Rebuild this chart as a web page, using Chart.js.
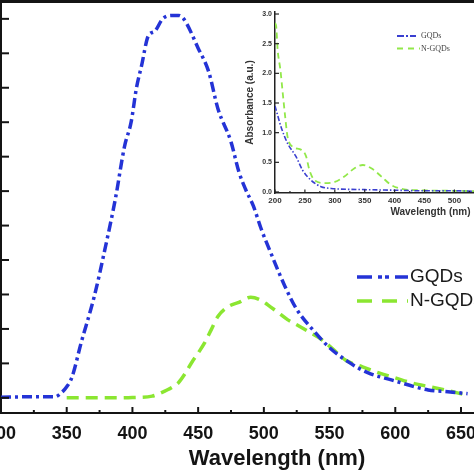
<!DOCTYPE html>
<html>
<head>
<meta charset="utf-8">
<script src="https://cdn.jsdelivr.net/npm/chart.js@4/dist/chart.umd.min.js"></script>
<style>
  html, body { margin: 0; padding: 0; background: #fff; }
  #wrap { position: relative; width: 474px; height: 474px; overflow: hidden; background: #fff; }
  #main { position: absolute; left: -30px; top: 0; }
  #inset { position: absolute; left: 230px; top: 0; }
</style>
</head>
<body>
<div id="wrap">
  <canvas id="main" width="583" height="474"></canvas>
  <canvas id="inset" width="356" height="225"></canvas>
</div>
<script>
// ---------- Main PL spectra ----------
const seriesNames = ['GQDs', 'N-GQDs'];
const gqdWave = [300, 320, 341, 346, 350, 354, 361, 371, 379, 387, 394, 399, 403, 407, 412, 417, 423, 430, 435, 439, 450, 458, 465, 475, 481, 486, 492, 498, 506, 516, 525, 539, 549, 564, 579, 597, 625, 640, 655];
const gqdPL   = [0.02, 0.03, 0.03, 0.15, 0.32, 0.6, 1.6, 2.95, 4.3, 5.77, 7.3, 8.0, 8.98, 9.65, 10.5, 10.64, 11.0, 11.1, 11.1, 11.0, 10.15, 9.47, 8.4, 7.43, 6.56, 6.06, 5.57, 4.9, 4.14, 3.24, 2.57, 1.9, 1.49, 1.05, 0.73, 0.52, 0.23, 0.18, 0.12];
const ngqdWave = [350, 380, 400, 415, 422, 430, 435, 440, 445, 450, 455, 460, 465, 473, 481, 490, 497, 503, 510, 518, 526, 534, 544, 553, 562, 575, 587, 600, 612, 625, 638, 653];
const ngqdPL   = [0, 0, 0.01, 0.05, 0.15, 0.3, 0.44, 0.7, 1.02, 1.3, 1.6, 1.98, 2.36, 2.65, 2.77, 2.92, 2.85, 2.7, 2.5, 2.27, 2.1, 1.92, 1.69, 1.4, 1.1, 0.9, 0.73, 0.58, 0.44, 0.33, 0.23, 0.09];
const mainXTicks = [300, 350, 400, 450, 500, 550, 600, 650, 700];

// ---------- Inset absorbance ----------
const gqdAbsWave = [200, 202, 210, 221, 235, 246, 260, 277, 294, 350, 400, 450, 500, 550, 600, 700];
const gqdAbs     = [1.45, 1.38, 1.10, 0.82, 0.60, 0.37, 0.20, 0.09, 0.06, 0.04, 0.03, 0.02, 0.02, 0.01, 0.01, 0.01];
const ngqdAbsWave = [200, 202, 204.5, 209, 213, 217, 221, 230, 244, 252, 257.5, 266, 283, 300, 316, 333, 347, 361, 378, 394, 416, 439, 500, 600, 700];
const ngqdAbs     = [2.85, 2.79, 2.39, 2.06, 1.66, 1.27, 0.93, 0.76, 0.71, 0.60, 0.37, 0.20, 0.15, 0.17, 0.26, 0.40, 0.455, 0.40, 0.26, 0.12, 0.045, 0.03, 0.02, 0.01, 0.01];
const insetXTicks = [200, 250, 300, 350, 400, 450, 500, 550, 600, 650, 700];

const BLUE = '#2433d6';
const GREEN = '#8be631';
const INK = '#141414';

function pts(xs, ys) { return xs.map((x, i) => ({ x: x, y: ys[i] })); }

// inward tick marks drawn from the scales
const inTicks = {
  id: 'inTicks',
  afterDraw(chart, args, o) {
    const ctx = chart.ctx, a = chart.chartArea;
    const xs = chart.scales.x, ys = chart.scales.y;
    ctx.save();
    ctx.strokeStyle = o.color; ctx.lineWidth = o.width;
    xs.ticks.forEach(t => {
      const px = xs.getPixelForValue(t.value);
      const len = (t.value % o.xMajor === 0) ? o.xLen : o.xMinorLen;
      ctx.beginPath(); ctx.moveTo(px, a.bottom); ctx.lineTo(px, a.bottom - len); ctx.stroke();
    });
    ys.ticks.forEach(t => {
      const py = ys.getPixelForValue(t.value);
      ctx.beginPath(); ctx.moveTo(a.left, py); ctx.lineTo(a.left + o.yLen, py); ctx.stroke();
    });
    if (o.topFrame) {
      ctx.fillStyle = o.color;
      ctx.fillRect(a.left - 1, 0, a.right - a.left + 1, a.top);
    }
    ctx.restore();
  }
};

// line-sample legend
const lineLegend = {
  id: 'lineLegend',
  afterDraw(chart, args, o) {
    const ctx = chart.ctx;
    chart.data.datasets.forEach((ds, i) => {
      const y = o.y + i * o.gap;
      ctx.save();
      ctx.strokeStyle = ds.borderColor;
      ctx.lineWidth = o.lineWidth;
      ctx.setLineDash(o.dashes[i]);
      ctx.beginPath(); ctx.moveTo(o.x, y); ctx.lineTo(o.x + o.len, y); ctx.stroke();
      ctx.setLineDash([]);
      ctx.fillStyle = o.color;
      ctx.font = o.font;
      ctx.textBaseline = 'middle';
      ctx.fillText(ds.label, o.x + o.len + o.textGap, y);
      ctx.restore();
    });
  }
};

new Chart(document.getElementById('main'), {
  type: 'line',
  data: {
    datasets: [
      { label: seriesNames[0], data: pts(gqdWave, gqdPL), borderColor: BLUE, borderWidth: 3.5,
        borderDash: [10, 4, 3, 4], pointRadius: 0, cubicInterpolationMode: 'monotone', fill: false },
      { label: seriesNames[1], data: pts(ngqdWave, ngqdPL), borderColor: GREEN, borderWidth: 3.5,
        borderDash: [12, 7], pointRadius: 0, cubicInterpolationMode: 'monotone', fill: false }
    ]
  },
  options: {
    responsive: false, animation: false,
    layout: { padding: { left: 31, top: 3, right: 0, bottom: 0 } },
    plugins: {
      legend: { display: false }, tooltip: { enabled: false },
      inTicks: { color: INK, width: 2, xMajor: 50, xLen: 6, xMinorLen: 3, yLen: 8, topFrame: true },
      lineLegend: { x: 387, y: 277, gap: 24, len: 51, textGap: 2, lineWidth: 3.5,
        dashes: [[15, 6, 4, 3, 4, 6], [15, 10]], color: '#1a1a1a', font: '19px "Liberation Sans", Arial, sans-serif' }
    },
    scales: {
      x: {
        type: 'linear', min: 300, max: 720,
        afterBuildTicks: s => { s.ticks = [];
          for (let v = 300; v <= 720; v += 25) s.ticks.push({ value: v }); },
        ticks: { autoSkip: false, maxRotation: 0, padding: 10, color: INK,
          font: { family: '"Liberation Sans", Arial, sans-serif', size: 18, weight: 'bold' },
          callback: v => mainXTicks.includes(v) ? String(v) : '' },
        grid: { display: false, drawTicks: false },
        border: { display: true, color: INK, width: 2 },
        title: { display: true, text: 'Wavelength (nm)', color: INK, padding: { top: 0, bottom: 2 },
          font: { family: '"Liberation Sans", Arial, sans-serif', size: 22, weight: 'bold' } },
        afterFit: s => { s.height = 61; }
      },
      y: {
        type: 'linear', min: -0.44, max: 11.46,
        ticks: { display: false, stepSize: 1, includeBounds: false },
        grid: { display: false, drawTicks: false },
        border: { display: true, color: INK, width: 2 },
        afterFit: s => { s.width = 0; }
      }
    }
  },
  plugins: [inTicks, lineLegend]
});

new Chart(document.getElementById('inset'), {
  type: 'line',
  data: {
    datasets: [
      { label: seriesNames[0], data: pts(gqdAbsWave, gqdAbs), borderColor: '#3a3fd0', borderWidth: 1.6,
        borderDash: [5, 2, 1.5, 2], pointRadius: 0, cubicInterpolationMode: 'monotone', fill: false },
      { label: seriesNames[1], data: pts(ngqdAbsWave, ngqdAbs), borderColor: '#92e84a', borderWidth: 1.8,
        borderDash: [6, 4], pointRadius: 0, cubicInterpolationMode: 'monotone', fill: false }
    ]
  },
  options: {
    responsive: false, animation: false,
    layout: { padding: { left: 0, top: 12, right: 0, bottom: 0 } },
    plugins: {
      legend: { display: false }, tooltip: { enabled: false },
      inTicks: { color: '#222', width: 1.2, xMajor: 50, xLen: 3.5, xMinorLen: 2, yLen: 4, topFrame: false },
      lineLegend: { x: 167, y: 36, gap: 12.5, len: 23, textGap: 1, lineWidth: 2,
        dashes: [[7, 2, 2, 2, 6], [6, 5]], color: '#444', font: '8px "Liberation Serif", serif' }
    },
    scales: {
      x: {
        type: 'linear', min: 200, max: 720,
        afterBuildTicks: s => { s.ticks = [];
          for (let v = 200; v <= 720; v += 25) s.ticks.push({ value: v }); },
        ticks: { autoSkip: false, maxRotation: 0, padding: 3, color: '#333',
          font: { family: '"Liberation Sans", Arial, sans-serif', size: 8, weight: 'bold' },
          callback: v => insetXTicks.includes(v) ? String(v) : '' },
        grid: { display: false, drawTicks: false },
        border: { display: true, color: '#222', width: 1.5 },
        title: { display: true, text: 'Wavelength (nm)', color: '#333', padding: { top: 0, bottom: 7 },
          font: { family: '"Liberation Sans", Arial, sans-serif', size: 10, weight: 'bold' } },
        afterFit: s => { s.height = 32; }
      },
      y: {
        type: 'linear', min: -0.017, max: 3.034,
        ticks: { stepSize: 0.5, includeBounds: false, padding: 3, color: '#333',
          font: { family: '"Liberation Sans", Arial, sans-serif', size: 7, weight: 'bold' },
          callback: v => v.toFixed(1) },
        grid: { display: false, drawTicks: false },
        border: { display: true, color: '#222', width: 1.5 },
        title: { display: true, text: 'Absorbance (a.u.)', color: '#333', padding: { top: 14, bottom: 0 },
          font: { family: '"Liberation Sans", Arial, sans-serif', size: 10, weight: 'bold' } },
        afterFit: s => { s.width = 45; }
      }
    }
  },
  plugins: [inTicks, lineLegend]
});
</script>
</body>
</html>
